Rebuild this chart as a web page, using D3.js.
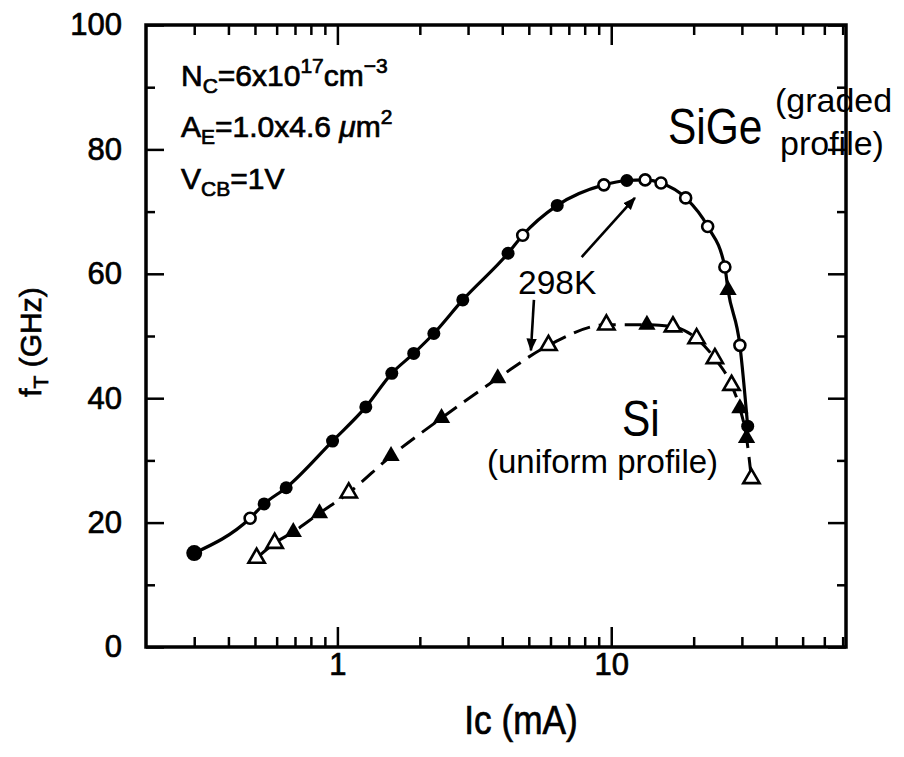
<!DOCTYPE html>
<html>
<head>
<meta charset="utf-8">
<script src="https://cdn.jsdelivr.net/npm/d3@7"></script>
<style>
body { margin: 0; background: #fff; }
text { font-family: "Liberation Sans", Arial, Helvetica, sans-serif; fill: #000; }
.scan { stroke: #000; stroke-width: 0.7px; }
</style>
</head>
<body>
<svg width="904" height="757"></svg>
<script>
// SiGe (graded profile) - solid curve
const sigeIc = [0.3, 0.48, 0.54, 0.65, 0.96, 1.27, 1.58, 1.9, 2.25, 2.87, 4.2, 4.75, 6.35, 9.4, 11.4, 13.3, 15.2, 18.7, 22.5, 26.0, 26.7, 29.5, 31.5];
const sigeFt = [15.1, 20.7, 23.0, 25.6, 33.1, 38.6, 44.0, 47.2, 50.4, 55.8, 63.3, 66.2, 71.0, 74.3, 75.0, 75.1, 74.6, 72.2, 67.6, 61.1, 57.4, 48.5, 35.5];
// F = filled circle, O = open circle, T = filled triangle
const sigeMark = ["F", "O", "F", "F", "F", "F", "F", "F", "F", "F", "F", "O", "F", "O", "F", "O", "O", "O", "O", "O", "T", "O", "F"];

// Si (uniform profile) - dashed curve
const siIc = [0.507, 0.59, 0.69, 0.86, 1.10, 1.57, 2.4, 3.85, 5.9, 9.6, 13.5, 16.8, 20.5, 23.9, 27.5, 29.5, 31.2, 32.5];
const siFt = [14.3, 16.7, 18.5, 21.5, 24.8, 30.7, 36.8, 43.2, 48.5, 51.8, 51.8, 51.5, 49.6, 46.4, 42.1, 38.4, 33.6, 27.1];
// t = open triangle, T = filled triangle
const siMark = ["t", "t", "T", "T", "t", "T", "T", "T", "t", "t", "T", "t", "t", "t", "t", "T", "T", "t"];

// axes
const xMajor = [1, 10];
const xMinor = [0.3, 0.4, 0.5, 0.6, 0.7, 0.8, 0.9, 2, 3, 4, 5, 6, 7, 8, 9, 20, 30, 40, 50, 60, 70];
const yMajor = [0, 20, 40, 60, 80, 100];
const yMinor = [10, 30, 50, 70, 90];

// annotation arrows "298K" (Ic, fT)
const arrowFrom = [[7.8, 62.7], [5.22, 55.8]];
const arrowTo = [[12.2, 72.2], [5.09, 47.7]];

const margin = {top: 25, right: 58, bottom: 110, left: 146};
const W = 904, H = 757;
const w = W - margin.left - margin.right;
const h = H - margin.top - margin.bottom;

const svg = d3.select("svg");
const g = svg.append("g").attr("transform", `translate(${margin.left},${margin.top})`);

const x = d3.scaleLog().domain([0.2, 72]).range([0, w]);
const y = d3.scaleLinear().domain([0, 100]).range([h, 0]);

svg.append("defs").append("marker")
    .attr("id", "head")
    .attr("viewBox", "0 0 10 10")
    .attr("refX", 9).attr("refY", 5)
    .attr("markerWidth", 5).attr("markerHeight", 5)
    .attr("markerUnits", "strokeWidth")
    .attr("orient", "auto")
  .append("path")
    .attr("d", "M0,1 L10,5 L0,9 Z")
    .attr("fill", "#000");

// ticks (all pointing inwards)
function tickAxis(axis, vals, len, tr) {
  const a = g.append("g").attr("transform", tr)
    .call(axis.tickValues(vals).tickSizeInner(len).tickSizeOuter(0).tickFormat(() => ""));
  a.select(".domain").remove();
  a.selectAll(".tick line").attr("stroke", "#000").attr("stroke-width", 2.5);
  return a;
}
tickAxis(d3.axisBottom(x), xMajor, -20, `translate(0,${h})`);
tickAxis(d3.axisBottom(x), xMinor, -10, `translate(0,${h})`);
tickAxis(d3.axisTop(x), xMajor, -20, "translate(0,0)");
tickAxis(d3.axisTop(x), xMinor, -10, "translate(0,0)");
tickAxis(d3.axisLeft(y), yMajor, -18, "translate(0,0)");
tickAxis(d3.axisLeft(y), yMinor, -9, "translate(0,0)");
tickAxis(d3.axisRight(y), yMajor, -18, `translate(${w},0)`);
tickAxis(d3.axisRight(y), yMinor, -9, `translate(${w},0)`);

// frame
g.append("rect")
  .attr("x", 0).attr("y", 0).attr("width", w).attr("height", h)
  .attr("fill", "none").attr("stroke", "#000").attr("stroke-width", 3.5);

// tick labels
const xl = g.append("g").attr("transform", `translate(0,${h})`)
  .call(d3.axisBottom(x).tickValues(xMajor).tickSize(0).tickPadding(6).tickFormat(d3.format("d")));
xl.select(".domain").remove();
xl.selectAll("text").attr("class", "scan").style("font-size", "31px").style("font-family", null);

const yl = g.append("g")
  .call(d3.axisLeft(y).tickValues(yMajor).tickSize(0).tickPadding(24).tickFormat(d3.format("d")));
yl.select(".domain").remove();
yl.selectAll("text").attr("class", "scan").style("font-size", "31px").style("font-family", null);

// curves
const sige = sigeIc.map((v, i) => ({ic: v, ft: sigeFt[i], m: sigeMark[i]}));
const si = siIc.map((v, i) => ({ic: v, ft: siFt[i], m: siMark[i]}));
const line = d3.line().x(d => x(d.ic)).y(d => y(d.ft)).curve(d3.curveMonotoneX);

g.append("path").datum(sige).attr("d", line)
  .attr("fill", "none").attr("stroke", "#000").attr("stroke-width", 3.2);
g.append("path").datum(si).attr("d", line)
  .attr("fill", "none").attr("stroke", "#000").attr("stroke-width", 3)
  .attr("stroke-dasharray", "17,9");

// markers
const tri = d3.symbol().type(d3.symbolTriangle);
function drawMarks(data, big) {
  data.forEach((d, i) => {
    const cx = x(d.ic), cy = y(d.ft);
    if (d.m === "F") {
      g.append("circle").attr("cx", cx).attr("cy", cy).attr("r", i === 0 && big ? 8 : 6.5).attr("fill", "#000");
    } else if (d.m === "O") {
      g.append("circle").attr("cx", cx).attr("cy", cy).attr("r", 5.5)
        .attr("fill", "#fff").attr("stroke", "#000").attr("stroke-width", 2.6);
    } else if (d.m === "T") {
      g.append("path").attr("d", tri.size(130)()).attr("transform", `translate(${cx},${cy})`).attr("fill", "#000");
    } else {
      g.append("path").attr("d", tri.size(115)()).attr("transform", `translate(${cx},${cy})`)
        .attr("fill", "#fff").attr("stroke", "#000").attr("stroke-width", 2.6);
    }
  });
}
drawMarks(sige, true);
drawMarks(si, false);

// 298K arrows
arrowFrom.forEach((p, i) => {
  g.append("line")
    .attr("x1", x(p[0])).attr("y1", y(p[1]))
    .attr("x2", x(arrowTo[i][0])).attr("y2", y(arrowTo[i][1]))
    .attr("stroke", "#000").attr("stroke-width", 2.6)
    .attr("marker-end", "url(#head)");
});

// annotations
const ann = svg.append("g");
function txt(xp, yp, size, cls) {
  return ann.append("text").attr("x", xp).attr("y", yp).style("font-size", size + "px").attr("class", cls || null);
}

let t = txt(181, 86, 30, "scan");
t.append("tspan").text("N");
t.append("tspan").attr("dy", 7).style("font-size", "21px").text("C");
t.append("tspan").attr("dy", -7).text("=6x10");
t.append("tspan").attr("dy", -13).style("font-size", "21px").text("17");
t.append("tspan").attr("dy", 13).text("cm");
t.append("tspan").attr("dy", -13).style("font-size", "21px").text("\u22123");

t = txt(181, 137, 30, "scan");
t.append("tspan").text("A");
t.append("tspan").attr("dy", 7).style("font-size", "21px").text("E");
t.append("tspan").attr("dy", -7).text("=1.0x4.6 ");
t.append("tspan").style("font-style", "italic").text("\u03bc");
t.append("tspan").text("m");
t.append("tspan").attr("dy", -13).style("font-size", "21px").text("2");

t = txt(181, 189, 30, "scan");
t.append("tspan").text("V");
t.append("tspan").attr("dy", 7).style("font-size", "21px").text("CB");
t.append("tspan").attr("dy", -7).text("=1V");

ann.append("text").attr("transform", "translate(668,144) scale(0.85,1)")
  .style("font-size", "50px").text("SiGe");
txt(775, 112, 34).text("(graded");
txt(780, 155, 34).text("profile)");

ann.append("text").attr("transform", "translate(622,436) scale(0.85,1)")
  .style("font-size", "50px").text("Si");
txt(487, 473, 33).text("(uniform profile)");

txt(518, 294, 33.5).text("298K");

// axis titles
ann.append("text").attr("transform", "translate(521,734) scale(0.88,1)")
  .attr("text-anchor", "middle").attr("class", "scan").style("font-size", "40px")
  .text("Ic (mA)");

t = ann.append("text").attr("transform", "translate(41,342) rotate(-90)")
  .attr("text-anchor", "middle").attr("class", "scan").style("font-size", "30px");
t.append("tspan").text("f");
t.append("tspan").attr("dy", 7).style("font-size", "21px").text("T");
t.append("tspan").attr("dy", -7).text(" (GHz)");
</script>
</body>
</html>
